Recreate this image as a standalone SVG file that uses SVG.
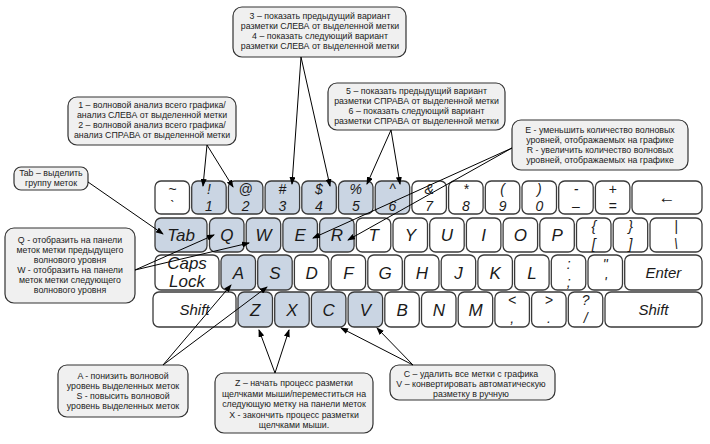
<svg xmlns="http://www.w3.org/2000/svg" width="710" height="444" viewBox="0 0 710 444">
<style>
.k{fill:#fff;stroke:#3a3a3a;stroke-width:1.3}
.h{fill:#cad5e3}
.t{font-family:"Liberation Sans",Arial,sans-serif;font-style:italic;font-size:17px;text-anchor:middle;fill:#1a1a1a}
.s{font-size:14px}
.b{fill:#f0f0f0;stroke:#333;stroke-width:1.2}
.bt{font-family:"Liberation Sans",Arial,sans-serif;font-size:8.8px;text-anchor:middle;fill:#222}
.c line{stroke:#000;stroke-width:1;marker-end:url(#ah)}
</style>
<defs>
<marker id="ah" markerWidth="8" markerHeight="6" refX="7" refY="3" orient="auto" markerUnits="userSpaceOnUse">
<path d="M0,0 L8,3 L0,6 Z" fill="#000"/>
</marker>
</defs>
<rect width="710" height="444" fill="#fff"/>

<!-- Row 1 -->
<g id="key-tilde"><rect class="k" x="155" y="181" width="34.5" height="33" rx="6"/><text class="t s" x="172.3" y="194">~</text><text class="t s" x="172.3" y="211">`</text></g>
<g id="key-1"><rect class="k h" x="191.7" y="181" width="34.5" height="33" rx="6"/><text class="t s" x="209" y="194">!</text><text class="t s" x="209" y="211">1</text></g>
<g id="key-2"><rect class="k h" x="228.4" y="181" width="34.5" height="33" rx="6"/><text class="t s" x="245.7" y="194">@</text><text class="t s" x="245.7" y="211">2</text></g>
<g id="key-3"><rect class="k h" x="265.1" y="181" width="34.5" height="33" rx="6"/><text class="t s" x="282.4" y="194">#</text><text class="t s" x="282.4" y="211">3</text></g>
<g id="key-4"><rect class="k h" x="301.8" y="181" width="34.5" height="33" rx="6"/><text class="t s" x="319" y="194">$</text><text class="t s" x="319" y="211">4</text></g>
<g id="key-5"><rect class="k h" x="338.5" y="181" width="34.5" height="33" rx="6"/><text class="t s" x="355.8" y="194">%</text><text class="t s" x="355.8" y="211">5</text></g>
<g id="key-6"><rect class="k h" x="375.2" y="181" width="34.5" height="33" rx="6"/><text class="t s" x="392.5" y="194">^</text><text class="t s" x="392.5" y="211">6</text></g>
<g id="key-7"><rect class="k" x="411.9" y="181" width="34.5" height="33" rx="6"/><text class="t s" x="429.2" y="194">&amp;</text><text class="t s" x="429.2" y="211">7</text></g>
<g id="key-8"><rect class="k" x="448.6" y="181" width="34.5" height="33" rx="6"/><text class="t s" x="465.9" y="194">*</text><text class="t s" x="465.9" y="211">8</text></g>
<g id="key-9"><rect class="k" x="485.3" y="181" width="34.5" height="33" rx="6"/><text class="t s" x="502.6" y="194">(</text><text class="t s" x="502.6" y="211">9</text></g>
<g id="key-0"><rect class="k" x="522" y="181" width="34.5" height="33" rx="6"/><text class="t s" x="539.3" y="194">)</text><text class="t s" x="539.3" y="211">0</text></g>
<g id="key-minus"><rect class="k" x="558.7" y="181" width="34.5" height="33" rx="6"/><text class="t s" x="576" y="194">-</text><text class="t s" x="576" y="211">–</text></g>
<g id="key-plus"><rect class="k" x="595.4" y="181" width="34.5" height="33" rx="6"/><text class="t s" x="612.7" y="194">+</text><text class="t s" x="612.7" y="211">=</text></g>
<g id="key-back"><rect class="k" x="632" y="181" width="70" height="33" rx="6"/><text class="t" x="667" y="203">←</text></g>

<!-- Row 2 -->
<g id="key-tab"><rect class="k h" x="155" y="218" width="52" height="34" rx="6"/><text class="t" x="181" y="241">Tab</text></g>
<g id="key-q"><rect class="k h" x="209.5" y="218" width="34.5" height="34" rx="6"/><text class="t" x="226.8" y="241">Q</text></g>
<g id="key-w"><rect class="k h" x="246.2" y="218" width="34.5" height="34" rx="6"/><text class="t" x="263.5" y="241">W</text></g>
<g id="key-e"><rect class="k h" x="282.9" y="218" width="34.5" height="34" rx="6"/><text class="t" x="300.2" y="241">E</text></g>
<g id="key-r"><rect class="k h" x="319.6" y="218" width="34.5" height="34" rx="6"/><text class="t" x="336.9" y="241">R</text></g>
<g id="key-t"><rect class="k" x="356.3" y="218" width="34.5" height="34" rx="6"/><text class="t" x="373.6" y="241">T</text></g>
<g id="key-y"><rect class="k" x="393" y="218" width="34.5" height="34" rx="6"/><text class="t" x="410.3" y="241">Y</text></g>
<g id="key-u"><rect class="k" x="429.7" y="218" width="34.5" height="34" rx="6"/><text class="t" x="447" y="241">U</text></g>
<g id="key-i"><rect class="k" x="466.4" y="218" width="34.5" height="34" rx="6"/><text class="t" x="483.7" y="241">I</text></g>
<g id="key-o"><rect class="k" x="503.1" y="218" width="34.5" height="34" rx="6"/><text class="t" x="520.4" y="241">O</text></g>
<g id="key-p"><rect class="k" x="539.8" y="218" width="34.5" height="34" rx="6"/><text class="t" x="557.1" y="241">P</text></g>
<g id="key-lbr"><rect class="k" x="576.5" y="218" width="34.5" height="34" rx="6"/><text class="t s" x="593.8" y="231">{</text><text class="t s" x="593.8" y="249">[</text></g>
<g id="key-rbr"><rect class="k" x="613.2" y="218" width="34.5" height="34" rx="6"/><text class="t s" x="630.5" y="231">}</text><text class="t s" x="630.5" y="249">]</text></g>
<g id="key-bslash"><rect class="k" x="650" y="218" width="52" height="34" rx="6"/><text class="t s" x="676" y="231">|</text><text class="t s" x="676" y="249">\</text></g>

<!-- Row 3 -->
<g id="key-caps"><rect class="k" x="155" y="255" width="64" height="35" rx="6"/><text class="t" x="187" y="269">Caps</text><text class="t" x="187" y="287">Lock</text></g>
<g id="key-a"><rect class="k h" x="221" y="255" width="34.5" height="35" rx="6"/><text class="t" x="238.3" y="279">A</text></g>
<g id="key-s"><rect class="k h" x="257.7" y="255" width="34.5" height="35" rx="6"/><text class="t" x="275" y="279">S</text></g>
<g id="key-d"><rect class="k" x="294.4" y="255" width="34.5" height="35" rx="6"/><text class="t" x="311.7" y="279">D</text></g>
<g id="key-f"><rect class="k" x="331.1" y="255" width="34.5" height="35" rx="6"/><text class="t" x="348.4" y="279">F</text></g>
<g id="key-g"><rect class="k" x="367.8" y="255" width="34.5" height="35" rx="6"/><text class="t" x="385.1" y="279">G</text></g>
<g id="key-h"><rect class="k" x="404.5" y="255" width="34.5" height="35" rx="6"/><text class="t" x="421.8" y="279">H</text></g>
<g id="key-j"><rect class="k" x="441.2" y="255" width="34.5" height="35" rx="6"/><text class="t" x="458.5" y="279">J</text></g>
<g id="key-k"><rect class="k" x="477.9" y="255" width="34.5" height="35" rx="6"/><text class="t" x="495.2" y="279">K</text></g>
<g id="key-l"><rect class="k" x="514.6" y="255" width="34.5" height="35" rx="6"/><text class="t" x="531.9" y="279">L</text></g>
<g id="key-semi"><rect class="k" x="551.3" y="255" width="34.5" height="35" rx="6"/><text class="t s" x="568.6" y="269">:</text><text class="t s" x="568.6" y="287">;</text></g>
<g id="key-quote"><rect class="k" x="588" y="255" width="34.5" height="35" rx="6"/><text class="t s" x="605.3" y="269">"</text><text class="t s" x="605.3" y="287">'</text></g>
<g id="key-enter"><rect class="k" x="624.7" y="255" width="77.3" height="35" rx="6"/><text class="t" x="663.4" y="278" style="font-size:15px">Enter</text></g>

<!-- Row 4 -->
<g id="key-lshift"><rect class="k" x="153" y="292" width="83" height="35" rx="6"/><text class="t" x="194.5" y="315" style="font-size:15px">Shift</text></g>
<g id="key-z"><rect class="k h" x="238" y="292" width="34.5" height="35" rx="6"/><text class="t" x="255.3" y="316">Z</text></g>
<g id="key-x"><rect class="k h" x="274.7" y="292" width="34.5" height="35" rx="6"/><text class="t" x="292" y="316">X</text></g>
<g id="key-c"><rect class="k h" x="311.4" y="292" width="34.5" height="35" rx="6"/><text class="t" x="328.7" y="316">C</text></g>
<g id="key-v"><rect class="k h" x="348.1" y="292" width="34.5" height="35" rx="6"/><text class="t" x="365.4" y="316">V</text></g>
<g id="key-b"><rect class="k" x="384.8" y="292" width="34.5" height="35" rx="6"/><text class="t" x="402.1" y="316">B</text></g>
<g id="key-n"><rect class="k" x="421.5" y="292" width="34.5" height="35" rx="6"/><text class="t" x="438.8" y="316">N</text></g>
<g id="key-m"><rect class="k" x="458.2" y="292" width="34.5" height="35" rx="6"/><text class="t" x="475.5" y="316">M</text></g>
<g id="key-comma"><rect class="k" x="494.9" y="292" width="34.5" height="35" rx="6"/><text class="t s" x="512.2" y="305">&lt;</text><text class="t s" x="512.2" y="323">,</text></g>
<g id="key-period"><rect class="k" x="531.6" y="292" width="34.5" height="35" rx="6"/><text class="t s" x="548.9" y="305">&gt;</text><text class="t s" x="548.9" y="323">.</text></g>
<g id="key-slash"><rect class="k" x="568.3" y="292" width="34.5" height="35" rx="6"/><text class="t s" x="585.6" y="305">?</text><text class="t s" x="585.6" y="323">/</text></g>
<g id="key-rshift"><rect class="k" x="605" y="292" width="97" height="35" rx="6"/><text class="t" x="653.5" y="315" style="font-size:15px">Shift</text></g>

<!-- Callouts -->
<g id="note-34"><rect class="b" x="233" y="7" width="173" height="50" rx="9"/>
<text class="bt" x="320" y="18.5">3 – показать предыдущий вариант</text>
<text class="bt" x="320" y="28.5">разметки СЛЕВА от выделенной метки</text>
<text class="bt" x="320" y="38.5">4 – показать следующий вариант</text>
<text class="bt" x="320" y="48.5">разметки СЛЕВА от выделенной метки</text></g>

<g id="note-12"><rect class="b" x="68" y="97" width="168" height="48" rx="9"/>
<text class="bt" x="152" y="108">1 – волновой анализ всего графика/</text>
<text class="bt" x="152" y="118">анализ СЛЕВА от выделенной метки</text>
<text class="bt" x="152" y="128">2 – волновой анализ всего графика/</text>
<text class="bt" x="152" y="138">анализ СПРАВА от выделенной метки</text></g>

<g id="note-56"><rect class="b" x="328" y="83" width="177" height="47" rx="9"/>
<text class="bt" x="416.5" y="93.5">5 – показать предыдущий вариант</text>
<text class="bt" x="416.5" y="103.5">разметки СПРАВА от выделенной метки</text>
<text class="bt" x="416.5" y="113.5">6 – показать следующий вариант</text>
<text class="bt" x="416.5" y="123.5">разметки СПРАВА от выделенной метки</text></g>

<g id="note-er"><rect class="b" x="512" y="120" width="176" height="50" rx="9"/>
<text class="bt" x="600" y="132.5">E - уменьшить количество волновых</text>
<text class="bt" x="600" y="142.5">уровней, отображаемых на графике</text>
<text class="bt" x="600" y="152.5">R - увеличить количество волновых</text>
<text class="bt" x="600" y="162.5">уровней, отображаемых на графике</text></g>

<g id="note-tab"><rect class="b" x="14" y="167" width="74" height="23" rx="7"/>
<text class="bt" x="51" y="176">Tab – выделить</text>
<text class="bt" x="51" y="186">группу меток</text></g>

<g id="note-qw"><rect class="b" x="5" y="228" width="130" height="75" rx="9"/>
<text class="bt" x="70" y="243">Q - отобразить на панели</text>
<text class="bt" x="70" y="253">меток метки предыдущего</text>
<text class="bt" x="70" y="263">волнового уровня</text>
<text class="bt" x="70" y="273">W - отобразить на панели</text>
<text class="bt" x="70" y="283">меток метки следующего</text>
<text class="bt" x="70" y="293">волнового уровня</text></g>

<g id="note-as"><rect class="b" x="58" y="365" width="130" height="52" rx="9"/>
<text class="bt" x="123" y="378.5">A - понизить волновой</text>
<text class="bt" x="123" y="388.5">уровень выделенных меток</text>
<text class="bt" x="123" y="398.5">S - повысить волновой</text>
<text class="bt" x="123" y="408.5">уровень выделенных меток</text></g>

<g id="note-zx"><rect class="b" x="215" y="373" width="158" height="60" rx="9"/>
<text class="bt" x="294" y="386">Z – начать процесс разметки</text>
<text class="bt" x="294" y="396.5">щелчками мыши/переместиться на</text>
<text class="bt" x="294" y="407">следующую метку на панели меток</text>
<text class="bt" x="294" y="417.5">X - закончить процесс разметки</text>
<text class="bt" x="294" y="428">щелчками мыши.</text></g>

<g id="note-cv"><rect class="b" x="390" y="365" width="165" height="35" rx="9"/>
<text class="bt" x="471" y="376.5">C – удалить все метки с графика</text>
<text class="bt" x="471" y="386.5">V – конвертировать автоматическую</text>
<text class="bt" x="471" y="396.5">разметку в ручную</text></g>

<!-- Connectors -->
<g id="connectors" class="c">
<line x1="301" y1="57" x2="292" y2="184"/>
<line x1="301" y1="57" x2="330" y2="186"/>
<line x1="207" y1="145" x2="203" y2="186"/>
<line x1="207" y1="145" x2="233" y2="187"/>
<line x1="391" y1="130" x2="367" y2="184"/>
<line x1="391" y1="130" x2="400" y2="184"/>
<line x1="512" y1="148" x2="313" y2="238"/>
<line x1="512" y1="148" x2="348" y2="240"/>
<line x1="88" y1="182" x2="163" y2="234"/>
<line x1="135" y1="270" x2="214" y2="235"/>
<line x1="135" y1="270" x2="249" y2="243"/>
<line x1="163" y1="365" x2="231" y2="285"/>
<line x1="163" y1="365" x2="267" y2="287"/>
<line x1="275" y1="373" x2="259" y2="330"/>
<line x1="275" y1="373" x2="289" y2="330"/>
<line x1="413" y1="365" x2="341" y2="328"/>
<line x1="413" y1="365" x2="377" y2="328"/>
</g>
</svg>
